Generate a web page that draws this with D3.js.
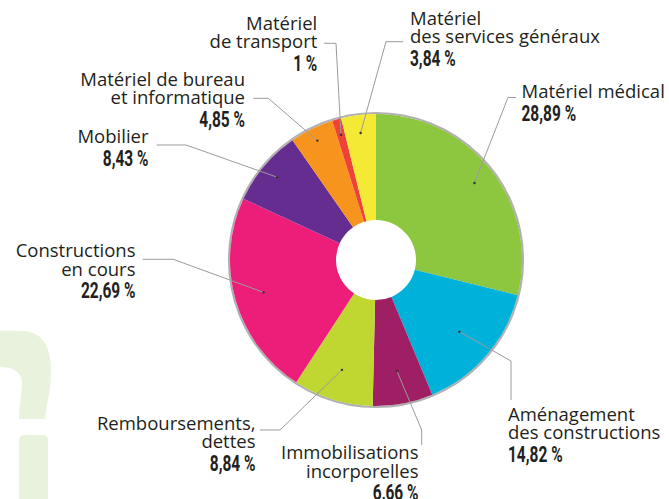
<!DOCTYPE html>
<meta charset="utf-8">
<style>
  body { margin: 0; background: #fff; }
  text { fill: #231f20; }
  .lbl { font-family: "Open Sans", sans-serif; font-size: 18.5px; font-weight: 500; }
  .pct { font-family: Roboto, sans-serif; font-weight: 700; font-size: 21.5px; }
</style>
<body>
<script src="https://d3js.org/d3.v7.min.js"></script>
<script>
// chart data
var categories = [
  "Matériel médical",
  "Aménagement des constructions",
  "Immobilisations incorporelles",
  "Remboursements, dettes",
  "Constructions en cours",
  "Mobilier",
  "Matériel de bureau et informatique",
  "Matériel de transport",
  "Matériel des services généraux"
];
var values = [28.89, 14.82, 6.66, 8.84, 22.69, 8.43, 4.85, 1, 3.84];
var labelLines = [
  ["Matériel médical"],
  ["Aménagement", "des constructions"],
  ["Immobilisations", "incorporelles"],
  ["Remboursements,", "dettes"],
  ["Constructions", "en cours"],
  ["Mobilier"],
  ["Matériel de bureau", "et informatique"],
  ["Matériel", "de transport"],
  ["Matériel", "des services généraux"]
];
var colors = ["#8dc63f", "#00b1d9", "#9e1f63", "#bfd730", "#ed1e79",
              "#662d91", "#f7941d", "#ef4136", "#f4e934"];

// label placement (x, first baseline, anchor, elbow, line end, dot radius)
var layout = [
  { x: 521.5, y: 98,    a: "start", elbow: [508, 97.5],   end: [516, 97.5],   r: 125 },
  { x: 508,   y: 420.7, a: "start", elbow: [511, 361],    end: [511, 400],    r: 110 },
  { x: 418.5, y: 459.3, a: "end",   elbow: [421.7, 430],  end: [421.7, 445],  r: 113 },
  { x: 255.5, y: 430,   a: "end",   elbow: [280, 430],    end: [260, 430],    r: 115 },
  { x: 135.5, y: 257.3, a: "end",   elbow: [173.3, 259.3],end: [142.7, 259.3],r: 117 },
  { x: 148.5, y: 142.7, a: "end",   elbow: [186, 145],    end: [156.7, 145],  r: 129 },
  { x: 245,   y: 86,    a: "end",   elbow: [268.3, 98.3], end: [253.3, 98.3], r: 133 },
  { x: 317.3, y: 30,    a: "end",   elbow: [336, 43.3],   end: [324, 43.3],   r: 130 },
  { x: 410,   y: 25,    a: "start", elbow: [386, 41.7],   end: [403.3, 41.7], r: 128 }
];

var width = 669, height = 499,
    cx = 376, cy = 260,
    outerR = 146, innerR = 40;

var svg = d3.select("body").append("svg")
  .attr("width", width)
  .attr("height", height);

// big pale question mark in the background, cut by the left edge
var deco = svg.append("g").attr("fill", "#e9f2dd");
deco.append("path")
  .attr("d", "M-60,420 L-60,345 C-40,328 0,331 25,331 C45,333 51,350 51,372 " +
             "C51,392 46,405 45,419 L19,419 C19,405 22,393 22,382 C22,372 12,367 2,367 " +
             "C-20,367 -35,380 -40,420 Z");
deco.append("rect")
  .attr("x", 19).attr("y", 435)
  .attr("width", 29).attr("height", 80)
  .attr("rx", 5);

var pie = d3.pie().sort(null).value(function(d) { return d; });
var arcs = pie(values);

var arc = d3.arc().innerRadius(innerR).outerRadius(outerR);

var g = svg.append("g")
  .attr("transform", "translate(" + cx + "," + cy + ")");

g.append("circle")
  .attr("r", outerR + 1)
  .attr("fill", "none")
  .attr("stroke", "#b1b1b1")
  .attr("stroke-width", 2.2);

g.selectAll("path.slice")
  .data(arcs)
  .enter().append("path")
  .attr("class", "slice")
  .attr("fill", function(d, i) { return colors[i]; })
  .attr("d", arc);

// leader lines + labels
var fmt = function(v) { return String(v).replace(".", ",") + " %"; };

arcs.forEach(function(d, i) {
  var L = layout[i];
  var p = d3.arc().innerRadius(L.r).outerRadius(L.r).centroid(d);
  var dot = [p[0] + cx, p[1] + cy];
  svg.append("path")
    .attr("d", d3.line()([dot, L.elbow, L.end]))
    .attr("fill", "none")
    .attr("stroke", "#9b9b9b")
    .attr("stroke-width", 1);
  svg.append("circle")
    .attr("cx", dot[0]).attr("cy", dot[1])
    .attr("r", 1.2)
    .attr("fill", "#333");

  var t = svg.append("g");
  labelLines[i].forEach(function(s, k) {
    t.append("text")
      .attr("class", "lbl")
      .attr("x", L.x)
      .attr("y", L.y + k * 18.3)
      .attr("text-anchor", L.a)
      .text(s);
  });
  t.append("g")
    .attr("transform", "translate(" + L.x + "," + (L.y + (labelLines[i].length - 1) * 18.3 + 22.8) + ") scale(0.72,1)")
    .append("text")
    .attr("class", "pct")
    .attr("text-anchor", L.a)
    .text(fmt(values[i]));
});
</script>
